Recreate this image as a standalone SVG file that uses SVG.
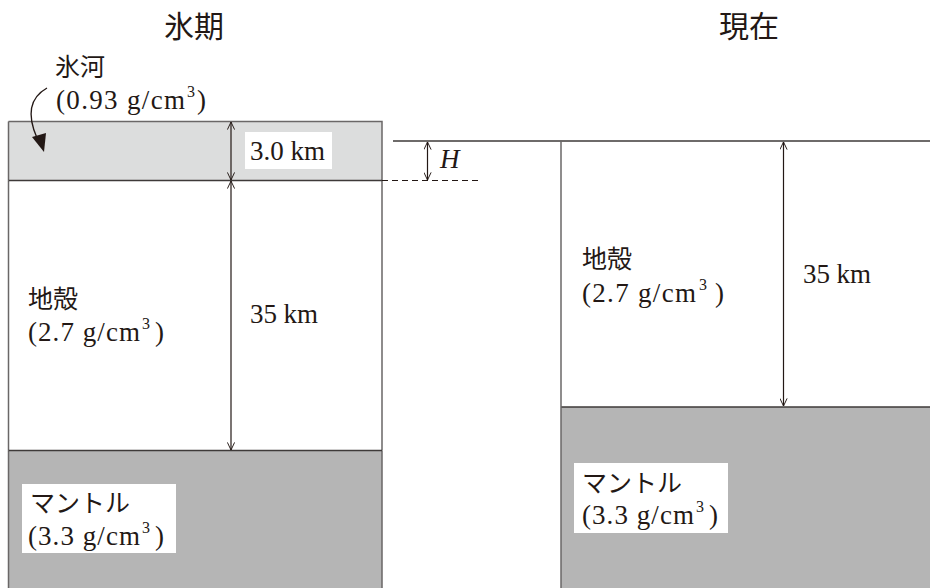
<svg xmlns="http://www.w3.org/2000/svg" width="930" height="588" viewBox="0 0 930 588">
<defs>
<style>
.jp{font-family:"Noto Sans CJK JP","Noto Sans",sans-serif;font-size:25px;fill:#231815}
.title{font-family:"Noto Sans CJK JP","Noto Sans",sans-serif;font-size:30px;fill:#231815;text-anchor:middle}
.num{font-family:'Liberation Serif','DejaVu Serif',serif;font-size:27px;fill:#231815}
.sup{font-family:'Liberation Serif','DejaVu Serif',serif;font-size:16px;fill:#231815}
.edge{stroke:#6a6767;stroke-width:1.5;fill:none}
.hline{stroke:#3e3a39;stroke-width:1.5;fill:none}
.dim{stroke:#231815;stroke-width:1.2;fill:none;marker-start:url(#open);marker-end:url(#open)}
.lbl{fill:#ffffff}
</style>
<marker id="open" viewBox="0 0 10 10" refX="9.5" refY="5" markerWidth="11" markerHeight="8" markerUnits="userSpaceOnUse" orient="auto-start-reverse">
<path d="M0,0.5 L9.5,5 L0,9.5" fill="none" stroke="#231815" stroke-width="1.2"/>
</marker>
</defs>
<rect width="930" height="588" fill="#ffffff"/>

<g id="title-glacial"><text class="title" x="194" y="37">氷期</text></g>
<g id="title-present"><text class="title" x="749" y="37">現在</text></g>

<g id="ice-left">
<rect x="8.5" y="121.5" width="373.5" height="59" fill="#dcdddd"/>
<path class="edge" d="M8.5,121.5 H382 V180.5 M8.5,121.5 V180.5"/>
<rect class="lbl" x="245" y="132" width="87" height="37"/>
<text class="num" font-family="Liberation Serif, serif" x="250" y="160" textLength="75" lengthAdjust="spacing">3.0 km</text>
</g>

<g id="ice-label">
<text class="jp" x="55" y="76">氷河</text>
<text class="num" font-family="Liberation Serif, serif" x="56" y="109" textLength="129" lengthAdjust="spacing">(0.93 g/cm</text>
<text class="sup" font-family="Liberation Serif, serif" x="187" y="97">3</text>
<text class="num" font-family="Liberation Serif, serif" x="197" y="109">)</text>
</g>

<g id="crust-left">
<rect x="8.5" y="180.5" width="373.5" height="270" fill="#ffffff"/>
<path class="edge" d="M8.5,180.5 V450.5 M382,180.5 V450.5"/>
<text class="jp" x="28" y="308">地殻</text>
<text class="num" font-family="Liberation Serif, serif" x="28" y="341" textLength="112" lengthAdjust="spacing">(2.7 g/cm</text>
<text class="sup" font-family="Liberation Serif, serif" x="142" y="329">3</text>
<text class="num" font-family="Liberation Serif, serif" x="155" y="341">)</text>
<text class="num" font-family="Liberation Serif, serif" x="250" y="323" textLength="68" lengthAdjust="spacing">35 km</text>
</g>

<g id="mantle-left">
<rect x="8.5" y="450.5" width="373.5" height="138" fill="#b5b5b5"/>
<path class="edge" d="M8.5,450.5 V588 M382,450.5 V588"/>
<rect class="lbl" x="22" y="484" width="154" height="69"/>
<text class="jp" x="30" y="512">マントル</text>
<text class="num" font-family="Liberation Serif, serif" x="28" y="545" textLength="112" lengthAdjust="spacing">(3.3 g/cm</text>
<text class="sup" font-family="Liberation Serif, serif" x="142" y="533">3</text>
<text class="num" font-family="Liberation Serif, serif" x="155" y="545">)</text>
</g>

<g id="crust-right">
<rect x="561" y="141" width="369" height="266" fill="#ffffff"/>
<text class="jp" x="582" y="268">地殻</text>
<text class="num" font-family="Liberation Serif, serif" x="582" y="302" textLength="114" lengthAdjust="spacing">(2.7 g/cm</text>
<text class="sup" font-family="Liberation Serif, serif" x="699" y="290">3</text>
<text class="num" font-family="Liberation Serif, serif" x="715" y="302">)</text>
<text class="num" font-family="Liberation Serif, serif" x="803" y="283" textLength="68" lengthAdjust="spacing">35 km</text>
</g>

<g id="mantle-right">
<rect x="561" y="407" width="369" height="181" fill="#b5b5b5"/>
<rect class="lbl" x="574" y="463" width="154" height="70"/>
<text class="jp" x="582" y="492">マントル</text>
<text class="num" font-family="Liberation Serif, serif" x="582" y="524" textLength="112" lengthAdjust="spacing">(3.3 g/cm</text>
<text class="sup" font-family="Liberation Serif, serif" x="696" y="512">3</text>
<text class="num" font-family="Liberation Serif, serif" x="709" y="524">)</text>
</g>

<g id="h-label">
<text class="num" font-family="Liberation Serif, serif" x="440" y="168" font-style="italic">H</text>
</g>

<g id="connectors">
<path class="hline" d="M8.5,180.5 H382"/>
<path class="hline" d="M8.5,450.5 H382"/>
<path class="hline" d="M393,141 H930"/>
<path class="hline" d="M561,407 H930"/>
<path class="edge" d="M561,141 V588"/>
<path d="M382,180.5 H481" stroke="#231815" stroke-width="1.2" stroke-dasharray="6,4" fill="none"/>
<path class="dim" d="M231,122 V180"/>
<path class="dim" d="M231,181 V450"/>
<path class="dim" d="M427.5,142 V180"/>
<path class="dim" d="M783.5,142 V406"/>
<path d="M47,88 C31,97 26,113 37,138" stroke="#231815" stroke-width="1.3" fill="none"/>
<path d="M32,137 L46,133 L44,152 Z" fill="#231815"/>
</g>
</svg>
